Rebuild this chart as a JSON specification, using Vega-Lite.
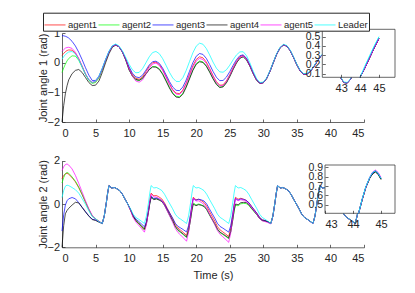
{
"$schema": "https://vega.github.io/schema/vega-lite/v6.json",
"autosize": {"type": "none"},
"width": 302,
"height": 214.3,
"padding": {"left": 62, "top": 33, "right": 51, "bottom": 45.7},
"background": "white",
"config": {
  "font": "Liberation Sans",
  "view": {"stroke": null},
  "line": {"strokeWidth": 0.7},
  "axis": {"labelFontSize": 11, "titleFontSize": 11, "titleFontWeight": "normal", "labelColor": "#262626", "titleColor": "#262626", "domainColor": "#262626", "tickColor": "#262626", "domainWidth": 0.7, "tickWidth": 0.7, "grid": false, "tickSize": -3, "labelOverlap": false}
},
"datasets": {
"p1": [
{"t":0,"a1":0.25,"a2":-0.33,"a3":0.91,"a4":-2.0,"a5":0.38,"L":0.12},
{"t":0.25,"a1":0.31,"a2":-0.18,"a3":0.905,"a4":-1.45,"a5":0.44,"L":0.2},
{"t":0.5,"a1":0.37,"a2":-0.05,"a3":0.89,"a4":-1.05,"a5":0.49,"L":0.27},
{"t":0.75,"a1":0.41,"a2":0.06,"a3":0.865,"a4":-0.78,"a5":0.51,"L":0.32},
{"t":1.0,"a1":0.43,"a2":0.14,"a3":0.83,"a4":-0.58,"a5":0.52,"L":0.36},
{"t":1.5,"a1":0.42,"a2":0.23,"a3":0.72,"a4":-0.37,"a5":0.48,"L":0.377},
{"t":2.0,"a1":0.32,"a2":0.22,"a3":0.56,"a4":-0.26,"a5":0.35,"L":0.29},
{"t":2.5,"a1":0.13,"a2":0.08,"a3":0.35,"a4":-0.23,"a5":0.14,"L":0.102},
{"t":3.0,"a1":-0.12,"a2":-0.15,"a3":0.1,"a4":-0.33,"a5":-0.12,"L":-0.145},
{"t":3.5,"a1":-0.38,"a2":-0.4,"a3":-0.17,"a4":-0.5,"a5":-0.38,"L":-0.392},
{"t":4.0,"a1":-0.58,"a2":-0.6,"a3":-0.42,"a4":-0.67,"a5":-0.57,"L":-0.581},
{"t":4.5,"a1":-0.67,"a2":-0.7,"a3":-0.6,"a4":-0.77,"a5":-0.66,"L":-0.667},
{"t":5.0,"a1":-0.64,"a2":-0.67,"a3":-0.6,"a4":-0.76,"a5":-0.63,"L":-0.625},
{"t":5.5,"a1":-0.48,"a2":-0.52,"a3":-0.46,"a4":-0.62,"a5":-0.48,"L":-0.452},
{"t":6.0,"a1":-0.21,"a2":-0.24,"a3":-0.2,"a4":-0.33,"a5":-0.21,"L":-0.186},
{"t":6.5,"a1":0.09,"a2":0.07,"a3":0.1,"a4":0.0,"a5":0.09,"L":0.116},
{"t":7.0,"a1":0.36,"a2":0.35,"a3":0.37,"a4":0.3,"a5":0.36,"L":0.388},
{"t":7.5,"a1":0.55,"a2":0.55,"a3":0.56,"a4":0.52,"a5":0.55,"L":0.573},
{"t":8.0,"a1":0.6,"a2":0.6,"a3":0.61,"a4":0.59,"a5":0.6,"L":0.63},
{"t":8.5,"a1":0.535,"a2":0.535,"a3":0.54,"a4":0.535,"a5":0.535,"L":0.562},
{"t":9.0,"a1":0.365,"a2":0.36,"a3":0.37,"a4":0.36,"a5":0.36,"L":0.398},
{"t":9.5,"a1":0.11,"a2":0.09,"a3":0.12,"a4":0.09,"a5":0.1,"L":0.175},
{"t":10.0,"a1":-0.196,"a2":-0.246,"a3":-0.146,"a4":-0.246,"a5":-0.216,"L":-0.056},
{"t":10.5,"a1":-0.407,"a2":-0.457,"a3":-0.357,"a4":-0.449,"a5":-0.46,"L":-0.242},
{"t":11.0,"a1":-0.531,"a2":-0.581,"a3":-0.481,"a4":-0.564,"a5":-0.618,"L":-0.341},
{"t":11.5,"a1":-0.558,"a2":-0.608,"a3":-0.504,"a4":-0.592,"a5":-0.658,"L":-0.328},
{"t":12.0,"a1":-0.483,"a2":-0.533,"a3":-0.423,"a4":-0.523,"a5":-0.583,"L":-0.203},
{"t":12.5,"a1":-0.307,"a2":-0.383,"a3":-0.255,"a4":-0.381,"a5":-0.389,"L":-0.006},
{"t":13.0,"a1":-0.124,"a2":-0.227,"a3":-0.08,"a4":-0.233,"a5":-0.187,"L":0.198},
{"t":13.5,"a1":-0.002,"a2":-0.131,"a3":0.034,"a4":-0.145,"a5":-0.047,"L":0.341},
{"t":14.0,"a1":0.017,"a2":-0.132,"a3":0.049,"a4":-0.152,"a5":-0.013,"L":0.378},
{"t":14.5,"a1":-0.064,"a2":-0.205,"a3":-0.022,"a4":-0.227,"a5":-0.094,"L":0.303},
{"t":15.0,"a1":-0.237,"a2":-0.371,"a3":-0.184,"a4":-0.394,"a5":-0.267,"L":0.136},
{"t":15.5,"a1":-0.467,"a2":-0.593,"a3":-0.404,"a4":-0.618,"a5":-0.497,"L":-0.088},
{"t":16.0,"a1":-0.706,"a2":-0.825,"a3":-0.632,"a4":-0.851,"a5":-0.736,"L":-0.321},
{"t":16.5,"a1":-0.908,"a2":-1.018,"a3":-0.822,"a4":-1.046,"a5":-0.938,"L":-0.516},
{"t":17.0,"a1":-1.028,"a2":-1.131,"a3":-0.932,"a4":-1.16,"a5":-1.058,"L":-0.63},
{"t":17.5,"a1":-1.043,"a2":-1.148,"a3":-0.942,"a4":-1.177,"a5":-1.076,"L":-0.638},
{"t":18.0,"a1":-0.924,"a2":-1.033,"a3":-0.822,"a4":-1.064,"a5":-0.959,"L":-0.51},
{"t":18.5,"a1":-0.69,"a2":-0.806,"a3":-0.586,"a4":-0.835,"a5":-0.729,"L":-0.267},
{"t":19.0,"a1":-0.396,"a2":-0.516,"a3":-0.29,"a4":-0.547,"a5":-0.439,"L":0.036},
{"t":19.5,"a1":-0.108,"a2":-0.235,"a3":-0.001,"a4":-0.265,"a5":-0.156,"L":0.333},
{"t":20.0,"a1":0.108,"a2":-0.028,"a3":0.216,"a4":-0.055,"a5":0.055,"L":0.557},
{"t":20.5,"a1":0.199,"a2":0.057,"a3":0.308,"a4":0.03,"a5":0.142,"L":0.657},
{"t":21.0,"a1":0.163,"a2":0.026,"a3":0.279,"a4":0.006,"a5":0.108,"L":0.622},
{"t":21.5,"a1":0.022,"a2":-0.1,"a3":0.146,"a4":-0.12,"a5":-0.027,"L":0.479},
{"t":22.0,"a1":-0.194,"a2":-0.3,"a3":-0.062,"a4":-0.32,"a5":-0.236,"L":0.262},
{"t":22.5,"a1":-0.433,"a2":-0.524,"a3":-0.293,"a4":-0.544,"a5":-0.469,"L":0.021},
{"t":23.0,"a1":-0.638,"a2":-0.712,"a3":-0.49,"a4":-0.733,"a5":-0.668,"L":-0.185},
{"t":23.5,"a1":-0.76,"a2":-0.819,"a3":-0.605,"a4":-0.839,"a5":-0.784,"L":-0.309},
{"t":24.0,"a1":-0.751,"a2":-0.801,"a3":-0.6,"a4":-0.819,"a5":-0.771,"L":-0.322},
{"t":24.5,"a1":-0.614,"a2":-0.664,"a3":-0.487,"a4":-0.68,"a5":-0.637,"L":-0.239},
{"t":25.0,"a1":-0.407,"a2":-0.457,"a3":-0.303,"a4":-0.469,"a5":-0.431,"L":-0.085},
{"t":25.5,"a1":-0.17,"a2":-0.22,"a3":-0.089,"a4":-0.228,"a5":-0.195,"L":0.099},
{"t":26.0,"a1":0.047,"a2":-0.003,"a3":0.104,"a4":-0.009,"a5":0.019,"L":0.262},
{"t":26.5,"a1":0.201,"a2":0.151,"a3":0.235,"a4":0.149,"a5":0.172,"L":0.363},
{"t":27.0,"a1":0.246,"a2":0.199,"a3":0.264,"a4":0.199,"a5":0.218,"L":0.368},
{"t":27.5,"a1":0.132,"a2":0.094,"a3":0.147,"a4":0.094,"a5":0.109,"L":0.235},
{"t":28.0,"a1":-0.092,"a2":-0.122,"a3":-0.081,"a4":-0.122,"a5":-0.11,"L":-0.008},
{"t":28.5,"a1":-0.358,"a2":-0.378,"a3":-0.349,"a4":-0.378,"a5":-0.37,"L":-0.292},
{"t":29.0,"a1":-0.582,"a2":-0.594,"a3":-0.577,"a4":-0.594,"a5":-0.589,"L":-0.535},
{"t":29.5,"a1":-0.695,"a2":-0.698,"a3":-0.693,"a4":-0.698,"a5":-0.697,"L":-0.667},
{"t":30.0,"a1":-0.675,"a2":-0.675,"a3":-0.675,"a4":-0.675,"a5":-0.675,"L":-0.655},
{"t":30.5,"a1":-0.53,"a2":-0.53,"a3":-0.53,"a4":-0.53,"a5":-0.53,"L":-0.51},
{"t":31.0,"a1":-0.285,"a2":-0.285,"a3":-0.285,"a4":-0.285,"a5":-0.285,"L":-0.265},
{"t":31.5,"a1":0.01,"a2":0.01,"a3":0.01,"a4":0.01,"a5":0.01,"L":0.03},
{"t":32.0,"a1":0.292,"a2":0.292,"a3":0.292,"a4":0.292,"a5":0.292,"L":0.312},
{"t":32.5,"a1":0.503,"a2":0.503,"a3":0.503,"a4":0.503,"a5":0.503,"L":0.523},
{"t":33.0,"a1":0.597,"a2":0.597,"a3":0.597,"a4":0.597,"a5":0.597,"L":0.617},
{"t":33.5,"a1":0.56,"a2":0.56,"a3":0.56,"a4":0.56,"a5":0.56,"L":0.58},
{"t":34.0,"a1":0.406,"a2":0.406,"a3":0.406,"a4":0.406,"a5":0.406,"L":0.426},
{"t":34.5,"a1":0.176,"a2":0.176,"a3":0.176,"a4":0.176,"a5":0.176,"L":0.196},
{"t":35.0,"a1":-0.074,"a2":-0.074,"a3":-0.074,"a4":-0.074,"a5":-0.074,"L":-0.054},
{"t":35.5,"a1":-0.28,"a2":-0.28,"a3":-0.28,"a4":-0.28,"a5":-0.28,"L":-0.26},
{"t":36.0,"a1":-0.39,"a2":-0.39,"a3":-0.39,"a4":-0.39,"a5":-0.39,"L":-0.37},
{"t":36.5,"a1":-0.384,"a2":-0.384,"a3":-0.384,"a4":-0.384,"a5":-0.384,"L":-0.364},
{"t":37.0,"a1":-0.295,"a2":-0.295,"a3":-0.295,"a4":-0.295,"a5":-0.295,"L":-0.275},
{"t":37.5,"a1":-0.144,"a2":-0.144,"a3":-0.144,"a4":-0.144,"a5":-0.144,"L":-0.124},
{"t":38.0,"a1":0.034,"a2":0.034,"a3":0.034,"a4":0.034,"a5":0.034,"L":0.054},
{"t":38.5,"a1":0.2,"a2":0.2,"a3":0.2,"a4":0.2,"a5":0.2,"L":0.22},
{"t":39.0,"a1":0.317,"a2":0.317,"a3":0.317,"a4":0.317,"a5":0.317,"L":0.337},
{"t":39.5,"a1":0.36,"a2":0.36,"a3":0.36,"a4":0.36,"a5":0.36,"L":0.38},
{"t":40.0,"a1":0.279,"a2":0.279,"a3":0.279,"a4":0.279,"a5":0.279,"L":0.299},
{"t":40.5,"a1":0.06,"a2":0.06,"a3":0.06,"a4":0.06,"a5":0.06,"L":0.08},
{"t":41.0,"a1":-0.229,"a2":-0.229,"a3":-0.229,"a4":-0.229,"a5":-0.229,"L":-0.209},
{"t":41.5,"a1":-0.5,"a2":-0.5,"a3":-0.5,"a4":-0.5,"a5":-0.5,"L":-0.48},
{"t":42.0,"a1":-0.67,"a2":-0.67,"a3":-0.67,"a4":-0.67,"a5":-0.67,"L":-0.65},
{"t":42.5,"a1":-0.688,"a2":-0.688,"a3":-0.688,"a4":-0.688,"a5":-0.688,"L":-0.668},
{"t":43.0,"a1":-0.561,"a2":-0.561,"a3":-0.561,"a4":-0.561,"a5":-0.561,"L":-0.541},
{"t":43.5,"a1":-0.32,"a2":-0.32,"a3":-0.32,"a4":-0.32,"a5":-0.32,"L":-0.3},
{"t":44.0,"a1":-0.02,"a2":-0.02,"a3":-0.02,"a4":-0.02,"a5":-0.02,"L":0.0},
{"t":44.5,"a1":0.275,"a2":0.275,"a3":0.275,"a4":0.275,"a5":0.275,"L":0.295},
{"t":45.0,"a1":0.497,"a2":0.497,"a3":0.497,"a4":0.497,"a5":0.497,"L":0.517}
],
"p2": [
{"t":0,"a1":1.17,"a2":0.97,"a3":-1.25,"a4":-2.0,"a5":1.55,"L":0.3},
{"t":0.25,"a1":1.32,"a2":1.22,"a3":-0.5,"a4":-1.0,"a5":1.72,"L":0.62},
{"t":0.5,"a1":1.39,"a2":1.4,"a3":-0.05,"a4":-0.45,"a5":1.82,"L":0.82},
{"t":0.75,"a1":1.42,"a2":1.46,"a3":0.15,"a4":-0.3,"a5":1.85,"L":0.87},
{"t":1.0,"a1":1.37,"a2":1.42,"a3":0.24,"a4":-0.2,"a5":1.8,"L":0.85},
{"t":1.5,"a1":1.22,"a2":1.25,"a3":0.3,"a4":-0.05,"a5":1.62,"L":0.76},
{"t":2.0,"a1":1.02,"a2":1.05,"a3":0.24,"a4":0.08,"a5":1.32,"L":0.66},
{"t":2.5,"a1":0.75,"a2":0.78,"a3":0.06,"a4":0.05,"a5":0.95,"L":0.5},
{"t":3.0,"a1":0.43,"a2":0.45,"a3":-0.15,"a4":-0.16,"a5":0.55,"L":0.25},
{"t":3.5,"a1":0.08,"a2":0.1,"a3":-0.35,"a4":-0.37,"a5":0.15,"L":-0.02},
{"t":4.0,"a1":-0.26,"a2":-0.25,"a3":-0.55,"a4":-0.56,"a5":-0.22,"L":-0.32},
{"t":4.5,"a1":-0.56,"a2":-0.55,"a3":-0.7,"a4":-0.72,"a5":-0.52,"L":-0.58},
{"t":5.0,"a1":-0.69,"a2":-0.68,"a3":-0.74,"a4":-0.76,"a5":-0.7,"L":-0.68},
{"t":5.5,"a1":-0.8,"a2":-0.8,"a3":-0.82,"a4":-0.84,"a5":-0.8,"L":-0.82},
{"t":6.0,"a1":-0.9,"a2":-0.9,"a3":-0.9,"a4":-0.9,"a5":-0.9,"L":-0.9},
{"t":6.3,"a1":-0.55,"a2":-0.55,"a3":-0.55,"a4":-0.55,"a5":-0.55,"L":-0.55},
{"t":6.6,"a1":0.05,"a2":0.05,"a3":0.05,"a4":0.05,"a5":0.05,"L":0.05},
{"t":6.8,"a1":0.5,"a2":0.5,"a3":0.5,"a4":0.5,"a5":0.5,"L":0.5},
{"t":7.0,"a1":0.85,"a2":0.85,"a3":0.85,"a4":0.85,"a5":0.85,"L":0.85},
{"t":7.4,"a1":0.74,"a2":0.74,"a3":0.74,"a4":0.74,"a5":0.74,"L":0.74},
{"t":7.8,"a1":0.76,"a2":0.76,"a3":0.76,"a4":0.76,"a5":0.76,"L":0.76},
{"t":8.2,"a1":0.7,"a2":0.7,"a3":0.7,"a4":0.7,"a5":0.7,"L":0.7},
{"t":8.6,"a1":0.62,"a2":0.62,"a3":0.62,"a4":0.62,"a5":0.62,"L":0.62},
{"t":9.0,"a1":0.45,"a2":0.45,"a3":0.45,"a4":0.45,"a5":0.45,"L":0.45},
{"t":9.4,"a1":0.22,"a2":0.22,"a3":0.22,"a4":0.22,"a5":0.22,"L":0.22},
{"t":9.8,"a1":0.0,"a2":0.0,"a3":0.0,"a4":0.0,"a5":0.0,"L":0.0},
{"t":10.2,"a1":-0.27,"a2":-0.27,"a3":-0.245,"a4":-0.27,"a5":-0.295,"L":-0.22},
{"t":10.6,"a1":-0.57,"a2":-0.57,"a3":-0.52,"a4":-0.57,"a5":-0.62,"L":-0.47},
{"t":11.0,"a1":-0.768,"a2":-0.768,"a3":-0.694,"a4":-0.756,"a5":-0.83,"L":-0.62},
{"t":11.4,"a1":-0.895,"a2":-0.895,"a3":-0.798,"a4":-0.871,"a5":-0.969,"L":-0.7},
{"t":11.85,"a1":-1.049,"a2":-1.049,"a3":-0.924,"a4":-1.012,"a5":-1.136,"L":-0.8},
{"t":12.28,"a1":-1.2,"a2":-1.2,"a3":-1.05,"a4":-1.15,"a5":-1.3,"L":-0.9},
{"t":12.58,"a1":-0.865,"a2":-0.91,"a3":-0.805,"a4":-0.89,"a5":-0.95,"L":-0.55},
{"t":12.88,"a1":-0.28,"a2":-0.37,"a3":-0.31,"a4":-0.38,"a5":-0.35,"L":0.05},
{"t":13.08,"a1":0.16,"a2":0.04,"a3":0.07,"a4":0.01,"a5":0.1,"L":0.5},
{"t":13.28,"a1":0.5,"a2":0.35,"a3":0.35,"a4":0.3,"a5":0.45,"L":0.85},
{"t":13.68,"a1":0.38,"a2":0.24,"a3":0.25,"a4":0.2,"a5":0.32,"L":0.74},
{"t":14.08,"a1":0.39,"a2":0.26,"a3":0.28,"a4":0.23,"a5":0.32,"L":0.76},
{"t":14.48,"a1":0.32,"a2":0.2,"a3":0.23,"a4":0.18,"a5":0.24,"L":0.7},
{"t":14.88,"a1":0.23,"a2":0.12,"a3":0.16,"a4":0.11,"a5":0.14,"L":0.62},
{"t":15.28,"a1":0.05,"a2":-0.05,"a3":0.0,"a4":-0.05,"a5":-0.05,"L":0.45},
{"t":15.68,"a1":-0.198,"a2":-0.295,"a3":-0.223,"a4":-0.295,"a5":-0.319,"L":0.22},
{"t":16.08,"a1":-0.437,"a2":-0.559,"a3":-0.435,"a4":-0.529,"a5":-0.578,"L":0.0},
{"t":16.48,"a1":-0.675,"a2":-0.794,"a3":-0.648,"a4":-0.764,"a5":-0.837,"L":-0.22},
{"t":16.88,"a1":-0.943,"a2":-1.059,"a3":-0.891,"a4":-1.029,"a5":-1.126,"L":-0.47},
{"t":17.28,"a1":-1.111,"a2":-1.223,"a3":-1.033,"a4":-1.193,"a5":-1.315,"L":-0.62},
{"t":17.68,"a1":-1.21,"a2":-1.318,"a3":-1.106,"a4":-1.288,"a5":-1.434,"L":-0.7},
{"t":18.13,"a1":-1.33,"a2":-1.434,"a3":-1.198,"a4":-1.404,"a5":-1.578,"L":-0.8},
{"t":18.56,"a1":-1.45,"a2":-1.55,"a3":-1.29,"a4":-1.52,"a5":-1.72,"L":-0.9},
{"t":18.86,"a1":-1.097,"a2":-1.224,"a3":-1.003,"a4":-1.239,"a5":-1.301,"L":-0.55},
{"t":19.16,"a1":-0.494,"a2":-0.678,"a3":-0.466,"a4":-0.708,"a5":-0.632,"L":0.05},
{"t":19.36,"a1":-0.042,"a2":-0.264,"a3":-0.058,"a4":-0.304,"a5":-0.136,"L":0.5},
{"t":19.56,"a1":0.31,"a2":0.05,"a3":0.25,"a4":0.0,"a5":0.26,"L":0.85},
{"t":19.96,"a1":0.198,"a2":-0.04,"a3":0.17,"a4":-0.08,"a5":0.138,"L":0.74},
{"t":20.36,"a1":0.216,"a2":0.0,"a3":0.22,"a4":-0.03,"a5":0.146,"L":0.76},
{"t":20.76,"a1":0.154,"a2":-0.04,"a3":0.19,"a4":-0.06,"a5":0.074,"L":0.7},
{"t":21.16,"a1":0.072,"a2":-0.1,"a3":0.14,"a4":-0.11,"a5":-0.018,"L":0.62},
{"t":21.56,"a1":-0.1,"a2":-0.25,"a3":0.0,"a4":-0.25,"a5":-0.2,"L":0.45},
{"t":21.96,"a1":-0.336,"a2":-0.506,"a3":-0.224,"a4":-0.476,"a5":-0.457,"L":0.22},
{"t":22.36,"a1":-0.562,"a2":-0.723,"a3":-0.438,"a4":-0.693,"a5":-0.704,"L":0.0},
{"t":22.76,"a1":-0.788,"a2":-0.939,"a3":-0.652,"a4":-0.909,"a5":-0.951,"L":-0.22},
{"t":23.16,"a1":-1.044,"a2":-1.185,"a3":-0.896,"a4":-1.155,"a5":-1.227,"L":-0.47},
{"t":23.56,"a1":-1.2,"a2":-1.332,"a3":-1.04,"a4":-1.302,"a5":-1.404,"L":-0.62},
{"t":23.96,"a1":-1.287,"a2":-1.408,"a3":-1.113,"a4":-1.378,"a5":-1.511,"L":-0.7},
{"t":24.41,"a1":-1.393,"a2":-1.504,"a3":-1.207,"a4":-1.474,"a5":-1.641,"L":-0.8},
{"t":24.84,"a1":-1.5,"a2":-1.6,"a3":-1.3,"a4":-1.57,"a5":-1.77,"L":-0.9},
{"t":25.14,"a1":-1.132,"a2":-1.289,"a3":-1.01,"a4":-1.274,"a5":-1.345,"L":-0.55},
{"t":25.44,"a1":-0.514,"a2":-0.758,"a3":-0.47,"a4":-0.728,"a5":-0.67,"L":0.05},
{"t":25.64,"a1":-0.052,"a2":-0.354,"a3":-0.06,"a4":-0.314,"a5":-0.17,"L":0.5},
{"t":25.84,"a1":0.31,"a2":-0.05,"a3":0.25,"a4":0.0,"a5":0.23,"L":0.85},
{"t":26.24,"a1":0.222,"a2":-0.085,"a3":0.177,"a4":-0.035,"a5":0.15,"L":0.74},
{"t":26.64,"a1":0.265,"a2":0.01,"a3":0.235,"a4":0.06,"a5":0.2,"L":0.76},
{"t":27.04,"a1":0.227,"a2":0.025,"a3":0.212,"a4":0.075,"a5":0.17,"L":0.7},
{"t":27.44,"a1":0.17,"a2":0.02,"a3":0.17,"a4":0.07,"a5":0.12,"L":0.62},
{"t":27.84,"a1":0.06,"a2":-0.07,"a3":0.06,"a4":-0.03,"a5":0.01,"L":0.45},
{"t":28.24,"a1":-0.11,"a2":-0.22,"a3":-0.11,"a4":-0.19,"a5":-0.16,"L":0.22},
{"t":28.64,"a1":-0.27,"a2":-0.36,"a3":-0.27,"a4":-0.34,"a5":-0.32,"L":0.0},
{"t":29.04,"a1":-0.43,"a2":-0.5,"a3":-0.43,"a4":-0.49,"a5":-0.48,"L":-0.22},
{"t":29.44,"a1":-0.62,"a2":-0.67,"a3":-0.62,"a4":-0.67,"a5":-0.67,"L":-0.47},
{"t":29.84,"a1":-0.732,"a2":-0.762,"a3":-0.732,"a4":-0.762,"a5":-0.775,"L":-0.62},
{"t":30.24,"a1":-0.763,"a2":-0.785,"a3":-0.763,"a4":-0.785,"a5":-0.81,"L":-0.7},
{"t":30.69,"a1":-0.82,"a2":-0.82,"a3":-0.82,"a4":-0.82,"a5":-0.86,"L":-0.8},
{"t":31.12,"a1":-0.9,"a2":-0.9,"a3":-0.9,"a4":-0.9,"a5":-0.92,"L":-0.9},
{"t":31.42,"a1":-0.56,"a2":-0.56,"a3":-0.56,"a4":-0.56,"a5":-0.57,"L":-0.55},
{"t":31.72,"a1":0.04,"a2":0.04,"a3":0.04,"a4":0.04,"a5":0.04,"L":0.05},
{"t":31.92,"a1":0.49,"a2":0.49,"a3":0.49,"a4":0.49,"a5":0.49,"L":0.5},
{"t":32.12,"a1":0.84,"a2":0.84,"a3":0.84,"a4":0.84,"a5":0.85,"L":0.85},
{"t":32.52,"a1":0.74,"a2":0.74,"a3":0.74,"a4":0.74,"a5":0.74,"L":0.74},
{"t":32.92,"a1":0.76,"a2":0.76,"a3":0.76,"a4":0.76,"a5":0.76,"L":0.76},
{"t":33.32,"a1":0.7,"a2":0.7,"a3":0.7,"a4":0.7,"a5":0.7,"L":0.7},
{"t":33.72,"a1":0.62,"a2":0.62,"a3":0.62,"a4":0.62,"a5":0.62,"L":0.62},
{"t":34.12,"a1":0.45,"a2":0.45,"a3":0.45,"a4":0.45,"a5":0.45,"L":0.45},
{"t":34.52,"a1":0.22,"a2":0.22,"a3":0.22,"a4":0.22,"a5":0.22,"L":0.22},
{"t":34.92,"a1":0.0,"a2":0.0,"a3":0.0,"a4":0.0,"a5":0.0,"L":0.0},
{"t":35.32,"a1":-0.22,"a2":-0.22,"a3":-0.22,"a4":-0.22,"a5":-0.22,"L":-0.22},
{"t":35.72,"a1":-0.47,"a2":-0.47,"a3":-0.47,"a4":-0.47,"a5":-0.47,"L":-0.47},
{"t":36.12,"a1":-0.62,"a2":-0.62,"a3":-0.62,"a4":-0.62,"a5":-0.62,"L":-0.62},
{"t":36.52,"a1":-0.7,"a2":-0.7,"a3":-0.7,"a4":-0.7,"a5":-0.7,"L":-0.7},
{"t":36.97,"a1":-0.8,"a2":-0.8,"a3":-0.8,"a4":-0.8,"a5":-0.81,"L":-0.8},
{"t":37.4,"a1":-0.9,"a2":-0.9,"a3":-0.9,"a4":-0.9,"a5":-0.91,"L":-0.9},
{"t":37.7,"a1":-0.55,"a2":-0.55,"a3":-0.55,"a4":-0.55,"a5":-0.55,"L":-0.55},
{"t":38.0,"a1":0.05,"a2":0.05,"a3":0.05,"a4":0.05,"a5":0.05,"L":0.05},
{"t":38.2,"a1":0.5,"a2":0.5,"a3":0.5,"a4":0.5,"a5":0.5,"L":0.5},
{"t":38.4,"a1":0.85,"a2":0.85,"a3":0.85,"a4":0.85,"a5":0.85,"L":0.85},
{"t":38.8,"a1":0.74,"a2":0.74,"a3":0.74,"a4":0.74,"a5":0.74,"L":0.74},
{"t":39.2,"a1":0.76,"a2":0.76,"a3":0.76,"a4":0.76,"a5":0.76,"L":0.76},
{"t":39.6,"a1":0.7,"a2":0.7,"a3":0.7,"a4":0.7,"a5":0.7,"L":0.7},
{"t":40.0,"a1":0.62,"a2":0.62,"a3":0.62,"a4":0.62,"a5":0.62,"L":0.62},
{"t":40.4,"a1":0.45,"a2":0.45,"a3":0.45,"a4":0.45,"a5":0.45,"L":0.45},
{"t":40.8,"a1":0.22,"a2":0.22,"a3":0.22,"a4":0.22,"a5":0.22,"L":0.22},
{"t":41.2,"a1":0.0,"a2":0.0,"a3":0.0,"a4":0.0,"a5":0.0,"L":0.0},
{"t":41.6,"a1":-0.22,"a2":-0.22,"a3":-0.22,"a4":-0.22,"a5":-0.22,"L":-0.22},
{"t":42.0,"a1":-0.47,"a2":-0.47,"a3":-0.47,"a4":-0.47,"a5":-0.47,"L":-0.47},
{"t":42.4,"a1":-0.62,"a2":-0.62,"a3":-0.62,"a4":-0.62,"a5":-0.62,"L":-0.62},
{"t":42.8,"a1":-0.7,"a2":-0.7,"a3":-0.7,"a4":-0.7,"a5":-0.71,"L":-0.7},
{"t":43.25,"a1":-0.8,"a2":-0.8,"a3":-0.8,"a4":-0.8,"a5":-0.81,"L":-0.8},
{"t":43.68,"a1":-0.9,"a2":-0.9,"a3":-0.9,"a4":-0.9,"a5":-0.91,"L":-0.9},
{"t":43.98,"a1":-0.55,"a2":-0.55,"a3":-0.55,"a4":-0.55,"a5":-0.55,"L":-0.55},
{"t":44.28,"a1":0.05,"a2":0.05,"a3":0.05,"a4":0.05,"a5":0.05,"L":0.05},
{"t":44.48,"a1":0.5,"a2":0.5,"a3":0.5,"a4":0.5,"a5":0.5,"L":0.5},
{"t":44.68,"a1":0.85,"a2":0.85,"a3":0.85,"a4":0.85,"a5":0.85,"L":0.85},
{"t":45.0,"a1":0.78,"a2":0.78,"a3":0.78,"a4":0.78,"a5":0.78,"L":0.78}
],
"i1": [
{"t":44.0,"a1":0.06,"a2":0.06,"a3":0.06,"a4":0.06,"a5":0.06,"L":0.06},
{"t":44.25,"a1":0.16,"a2":0.16,"a3":0.16,"a4":0.16,"a5":0.16,"L":0.18},
{"t":44.5,"a1":0.27,"a2":0.27,"a3":0.27,"a4":0.27,"a5":0.27,"L":0.29},
{"t":44.75,"a1":0.38,"a2":0.38,"a3":0.38,"a4":0.38,"a5":0.38,"L":0.4},
{"t":45.0,"a1":0.48,"a2":0.48,"a3":0.48,"a4":0.48,"a5":0.48,"L":0.5}
],
"i2": [
{"t":44.2,"a1":0.41,"a2":0.41,"a3":0.41,"a4":0.41,"a5":0.41,"L":0.41},
{"t":44.33,"a1":0.56,"a2":0.56,"a3":0.56,"a4":0.555,"a5":0.56,"L":0.565},
{"t":44.46,"a1":0.69,"a2":0.69,"a3":0.69,"a4":0.685,"a5":0.69,"L":0.695},
{"t":44.6,"a1":0.79,"a2":0.79,"a3":0.79,"a4":0.785,"a5":0.795,"L":0.795},
{"t":44.7,"a1":0.84,"a2":0.84,"a3":0.84,"a4":0.83,"a5":0.85,"L":0.845},
{"t":44.8,"a1":0.86,"a2":0.86,"a3":0.86,"a4":0.85,"a5":0.87,"L":0.862},
{"t":44.9,"a1":0.835,"a2":0.835,"a3":0.835,"a4":0.825,"a5":0.845,"L":0.836},
{"t":45.0,"a1":0.78,"a2":0.78,"a3":0.78,"a4":0.77,"a5":0.79,"L":0.78}
],
"box1": [{"x1":42,"x2":45.85,"y1":0.06,"y2":0.58}],
"box2": [{"x1":43,"x2":45.5,"y1":0.41,"y2":0.925}]
},
"layer": [
  {
    "data": {"name": "p1"},
    "transform": [{"fold": ["a1","a2","a3","a4","a5","L"], "as": ["s","v"]}],
    "mark": {"type": "line"},
    "encoding": {
      "x": {"field": "t", "type": "quantitative", "scale": {"domain": [0,45], "nice": false}, "axis": {"orient": "bottom", "offset": -125.3, "values": [0,5,10,15,20,25,30,35,40,45], "title": null, "labelPadding": 8}},
      "y": {"field": "v", "type": "quantitative", "scale": {"domain": [-2,1], "range": [89,0], "nice": false}, "axis": {"orient": "left", "values": [-2,-1,0,1], "title": "Joint angle 1 (rad)", "labelPadding": 5.5, "titlePadding": -1.5}},
      "color": {"field": "s", "type": "nominal", "scale": {"domain": ["a1","a2","a3","a4","a5","L"], "range": ["#ff0000","#00ff00","#0000ff","#000000","#ff00ff","#00ffff"]},
        "legend": {"orient": "none", "legendX": -19, "legendY": -20.3, "direction": "horizontal", "columns": 6, "title": null, "symbolType": "stroke", "symbolSize": 441, "symbolStrokeWidth": 1, "labelFontSize": 9.5, "labelColor": "#262626", "labelOffset": 2, "columnPadding": -1.5, "padding": 1, "strokeColor": "#262626", "fillColor": "white", "labelExpr": "datum.label == 'L' ? 'Leader' : 'agent' + substring(datum.label, 1)"}}
    }
  },
  {
    "layer": [
      {
        "data": {"name": "box1"},
        "mark": {"type": "rect", "fill": "white", "stroke": "#262626", "strokeWidth": 0.7},
        "encoding": {
          "x": {"field": "x1", "type": "quantitative", "scale": {"domain": [42,45.85], "range": [260.3,333], "nice": false}, "axis": {"orient": "bottom", "offset": -170, "values": [43,44,45], "format": "d", "title": null, "domain": false, "labelPadding": 8, "zindex": 1}},
          "x2": {"field": "x2"},
          "y": {"field": "y1", "type": "quantitative", "scale": {"domain": [0.06,0.58], "range": [44.3,-3.7], "nice": false}, "axis": {"orient": "left", "offset": -260.3, "values": [0.1,0.2,0.3,0.4,0.5], "format": ".1f", "title": null, "domain": false, "labelPadding": 5.5, "labelFontSize": 10.5, "zindex": 1}},
          "y2": {"field": "y2"}
        }
      },
      {
        "data": {"name": "i1"},
        "transform": [{"fold": ["a1","a2","a3","a4","a5","L"], "as": ["s","v"]}],
        "mark": {"type": "line", "strokeWidth": 0.9},
        "encoding": {
          "x": {"field": "t", "type": "quantitative"},
          "y": {"field": "v", "type": "quantitative"},
          "color": {"field": "s", "type": "nominal", "legend": null}
        }
      }
    ]
  },
  {
    "data": {"name": "p2"},
    "transform": [{"fold": ["a1","a2","a3","a4","a5","L"], "as": ["s","v"]}],
    "mark": {"type": "line"},
    "encoding": {
      "x": {"field": "t", "type": "quantitative", "scale": {"domain": [0,45], "nice": false}, "axis": {"orient": "bottom", "values": [0,5,10,15,20,25,30,35,40,45], "title": "Time (s)", "labelPadding": 8, "titlePadding": 6}},
      "y": {"field": "v", "type": "quantitative", "scale": {"domain": [-2,2], "range": [214.3,127.7], "nice": false}, "axis": {"orient": "left", "values": [-2,0,2], "title": "Joint angle 2 (rad)", "labelPadding": 5.5, "titlePadding": -1.5}},
      "color": {"field": "s", "type": "nominal", "legend": null}
    }
  },
  {
    "layer": [
      {
        "data": {"name": "box2"},
        "mark": {"type": "rect", "fill": "white", "stroke": "#262626", "strokeWidth": 0.7},
        "encoding": {
          "x": {"field": "x1", "type": "quantitative", "scale": {"domain": [43,45.5], "range": [263,333], "nice": false}, "axis": {"orient": "bottom", "offset": -34, "values": [43,44,45], "format": "d", "title": null, "domain": false, "labelPadding": 8, "zindex": 1}},
          "x2": {"field": "x2"},
          "y": {"field": "y1", "type": "quantitative", "scale": {"domain": [0.41,0.925], "range": [180.3,132], "nice": false}, "axis": {"orient": "left", "offset": -263, "values": [0.5,0.6,0.7,0.8,0.9], "format": ".1f", "title": null, "domain": false, "labelPadding": 5.5, "labelFontSize": 10.5, "zindex": 1}},
          "y2": {"field": "y2"}
        }
      },
      {
        "data": {"name": "i2"},
        "transform": [{"fold": ["a1","a2","a3","a4","a5","L"], "as": ["s","v"]}],
        "mark": {"type": "line", "strokeWidth": 0.9},
        "encoding": {
          "x": {"field": "t", "type": "quantitative"},
          "y": {"field": "v", "type": "quantitative"},
          "color": {"field": "s", "type": "nominal", "legend": null}
        }
      }
    ]
  }
],
"resolve": {"scale": {"x": "independent", "y": "independent"}, "axis": {"x": "independent", "y": "independent"}}
}
